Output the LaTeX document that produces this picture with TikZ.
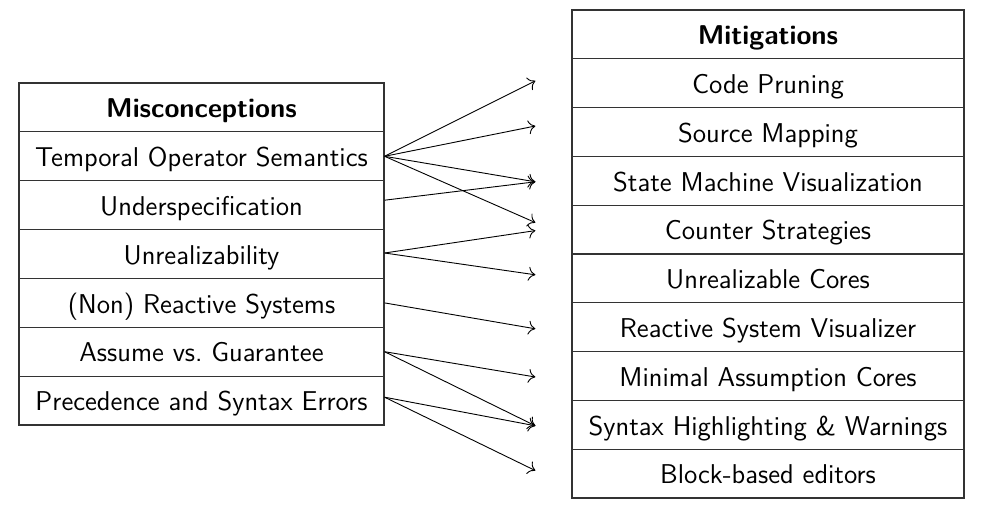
\documentclass[tikz,border=0pt]{standalone}
\usetikzlibrary{arrows.meta}
\begin{document}
\begin{tikzpicture}[x=0.5pt,y=-0.5pt,
  cell/.style={draw=black!80, line width=0.6pt, minimum height=24.43pt,
    inner sep=0pt, text height=10.2pt, text depth=0pt,
    font=\sffamily\fontsize{13.6}{15}\selectfont},
  lcell/.style={cell, minimum width=182.5pt},
  rcell/.style={cell, minimum width=196pt},
  link/.style={line width=0.45pt, -{To[length=3.5pt,width=7pt]}}
]
\useasboundingbox (0,0) rectangle (986,504);

% left table: misconceptions
\node[lcell] (mh) at (201.5,107.4) {\bfseries Misconceptions};
\node[lcell] (m1) at (201.5,156.3) {Temporal Operator Semantics};
\node[lcell] (m2) at (201.5,205.2) {Underspecification};
\node[lcell] (m3) at (201.5,254.0) {Unrealizability};
\node[lcell] (m4) at (201.5,302.9) {(Non) Reactive Systems};
\node[lcell] (m5) at (201.5,351.7) {Assume vs.\ Guarantee};
\node[lcell] (m6) at (201.5,400.6) {Precedence and Syntax Errors};

% right table: mitigations
\node[rcell] (th) at (768,34.4) {\bfseries Mitigations};
\node[rcell] (t1) at (768,83.2) {Code Pruning};
\node[rcell] (t2) at (768,132.0) {Source Mapping};
\node[rcell] (t3) at (768,180.8) {State Machine Visualization};
\node[rcell] (t4) at (768,229.6) {Counter Strategies};
\node[rcell] (t5) at (768,278.4) {Unrealizable Cores};
\node[rcell] (t6) at (768,327.2) {Reactive System Visualizer};
\node[rcell] (t7) at (768,376.0) {Minimal Assumption Cores};
\node[rcell] (t8) at (768,424.8) {Syntax Highlighting \& Warnings};
\node[rcell] (t9) at (768,473.6) {Block-based editors};

% links from misconceptions to mitigations
\draw[link] (m1.east) -- ([xshift=-18pt,yshift=1.2pt]t1.west);
\draw[link] (m1.east) -- ([xshift=-18pt,yshift=3pt]t2.west);
\draw[link] (m1.east) -- ([xshift=-18pt,yshift=-0.5pt]t3.west);
\draw[link] (m1.east) -- ([xshift=-18pt,yshift=3.5pt]t4.west);
\draw[link] ([yshift=2.5pt]m2.east) -- ([xshift=-18pt,yshift=-0.5pt]t3.west);
\draw[link] ([yshift=0.5pt]m3.east) -- ([xshift=-18pt,yshift=-0.5pt]t4.west);
\draw[link] ([yshift=0.5pt]m3.east) -- ([xshift=-18pt,yshift=1.8pt]t5.west);
\draw[link] (m4.east) -- ([xshift=-18pt,yshift=-0.8pt]t6.west);
\draw[link] (m5.east) -- ([xshift=-18pt,yshift=-0.5pt]t7.west);
\draw[link] (m5.east) -- ([xshift=-18pt,yshift=-0.5pt]t8.west);
\draw[link] ([yshift=1.7pt]m6.east) -- ([xshift=-18pt,yshift=-0.5pt]t8.west);
\draw[link] ([yshift=1.7pt]m6.east) -- ([xshift=-18pt,yshift=1.5pt]t9.west);
\end{tikzpicture}
\end{document}
